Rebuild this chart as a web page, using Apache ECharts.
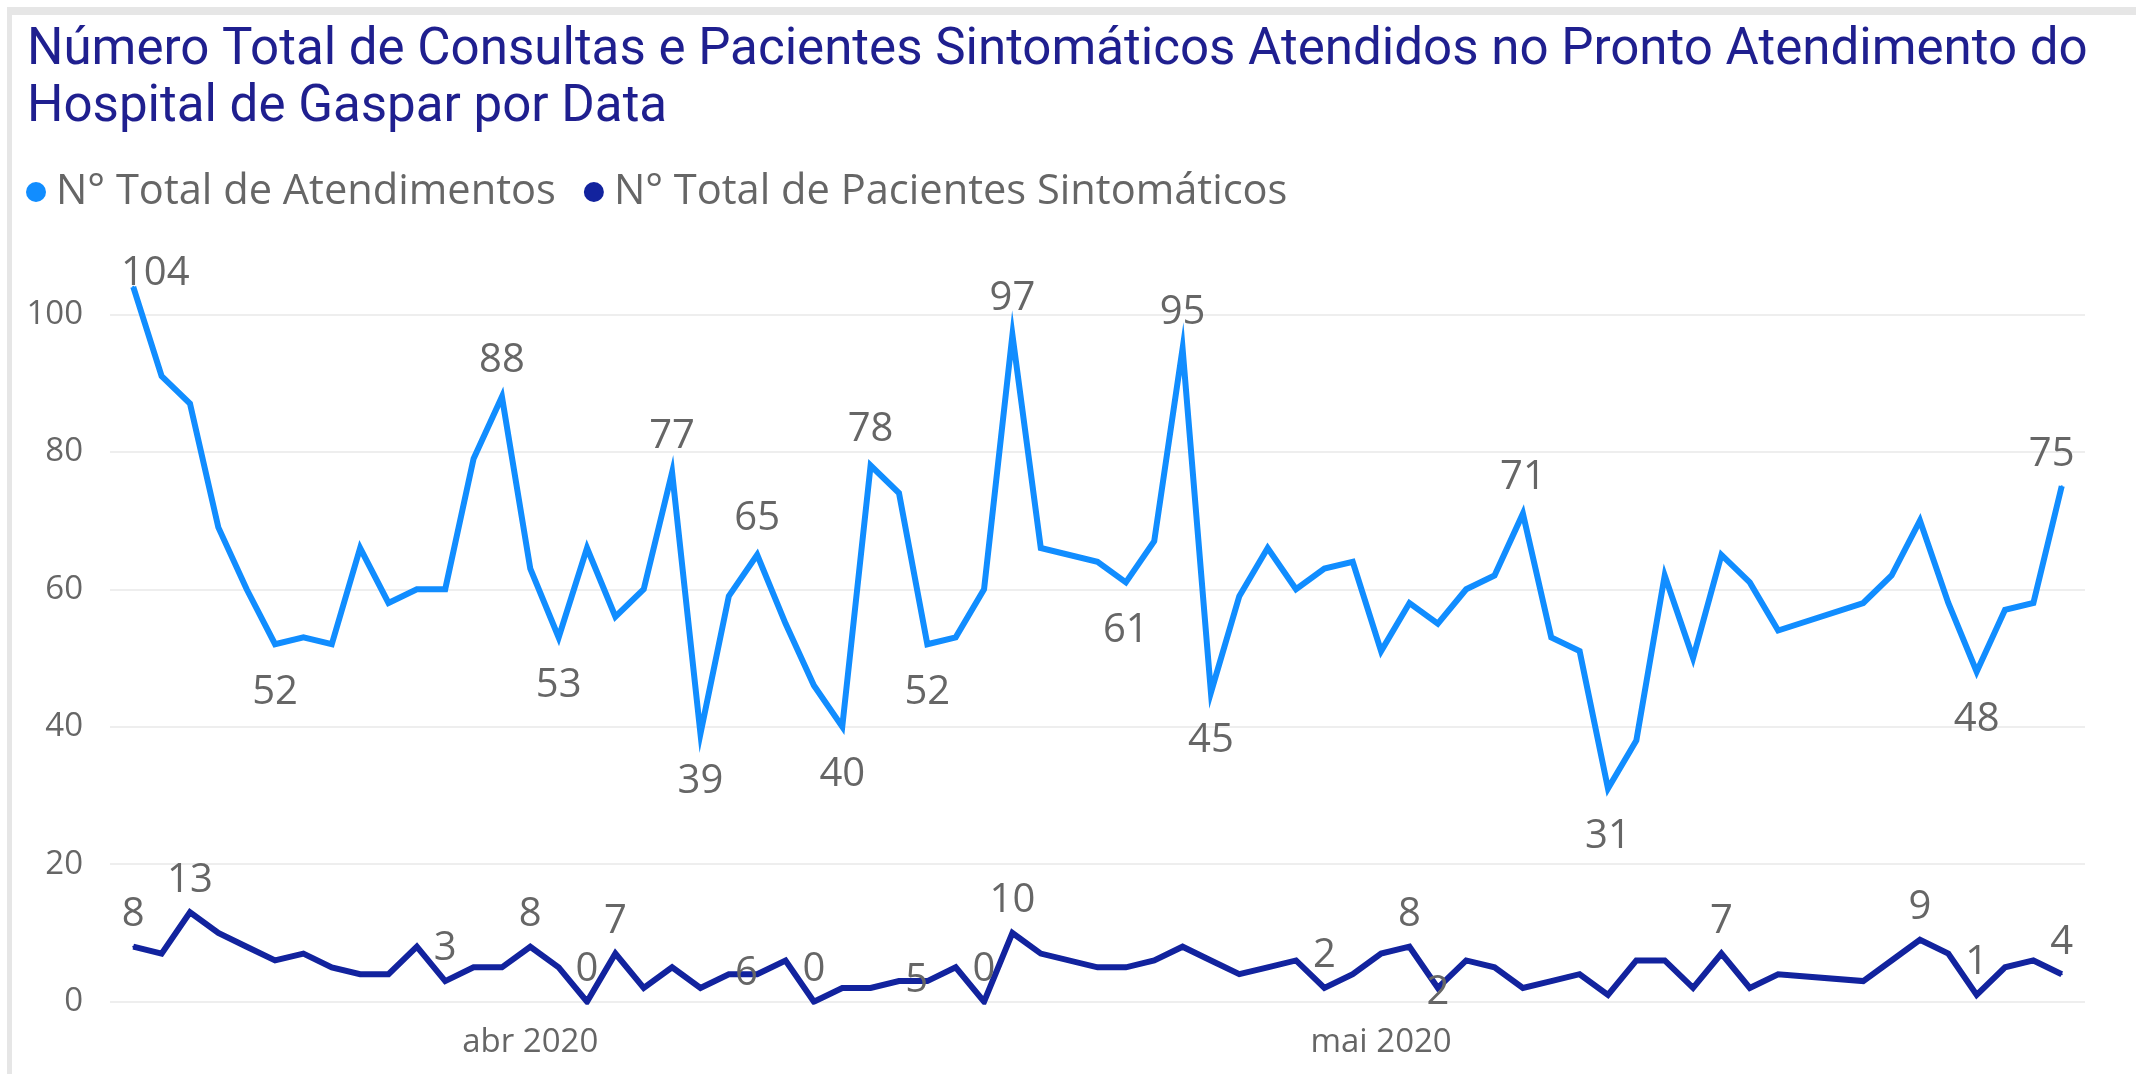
<!DOCTYPE html>
<html>
<head>
<meta charset="utf-8">
<title>Consultas e Pacientes Sintomáticos — Hospital de Gaspar</title>
<script src="https://cdn.jsdelivr.net/npm/echarts@6/dist/echarts.min.js"></script>
<style>
  html, body { margin: 0; padding: 0; background: #ffffff; }
  #chart { width: 2136px; height: 1074px; }
</style>
</head>
<body>
<div id="chart"></div>
<script>
// Daily records (days without a record are simply absent)
const dates = [
  '2020-03-18','2020-03-19','2020-03-20','2020-03-21','2020-03-22','2020-03-23','2020-03-24','2020-03-25',
  '2020-03-26','2020-03-27','2020-03-28','2020-03-29','2020-03-30','2020-03-31','2020-04-01','2020-04-02',
  '2020-04-03','2020-04-04','2020-04-05','2020-04-06','2020-04-07','2020-04-08','2020-04-09','2020-04-10',
  '2020-04-11','2020-04-12','2020-04-13','2020-04-14','2020-04-15','2020-04-16','2020-04-17','2020-04-18',
  '2020-04-19','2020-04-21','2020-04-22','2020-04-23','2020-04-24','2020-04-25','2020-04-26','2020-04-27',
  '2020-04-28','2020-04-29','2020-04-30','2020-05-01','2020-05-02','2020-05-03','2020-05-04','2020-05-05',
  '2020-05-06','2020-05-07','2020-05-08','2020-05-09','2020-05-10','2020-05-11','2020-05-12','2020-05-13',
  '2020-05-14','2020-05-15','2020-05-18','2020-05-19','2020-05-20','2020-05-21','2020-05-22','2020-05-23',
  '2020-05-24','2020-05-25'
];

const totalAtendimentos = [
  104, 91, 87, 69, 60, 52, 53, 52,
  66, 58, 60, 60, 79, 88, 63, 53,
  66, 56, 60, 77, 39, 59, 65, 55,
  46, 40, 78, 74, 52, 53, 60, 97,
  66, 64, 61, 67, 95, 45, 59, 66,
  60, 63, 64, 51, 58, 55, 60, 62,
  71, 53, 51, 31, 38, 62, 50, 65,
  61, 54, 58, 62, 70, 58, 48, 57,
  58, 75
];

const totalSintomaticos = [
  8, 7, 13, 10, 8, 6, 7, 5,
  4, 4, 8, 3, 5, 5, 8, 5,
  0, 7, 2, 5, 2, 4, 4, 6,
  0, 2, 2, 3, 3, 5, 0, 10,
  7, 5, 5, 6, 8, 6, 4, 5,
  6, 2, 4, 7, 8, 2, 6, 5,
  2, 3, 4, 1, 6, 6, 2, 7,
  2, 4, 3, 6, 9, 7, 1, 5,
  6, 4
];

// Month ticks on the date axis
const monthTickDates = ['2020-04-01', '2020-05-01'];
const monthTickLabels = ['abr 2020', 'mai 2020'];

const seriesNames = ['N° Total de Atendimentos', 'N° Total de Pacientes Sintomáticos'];
const titleLines = [
  'Número Total de Consultas e Pacientes Sintomáticos Atendidos no Pronto Atendimento do',
  'Hospital de Gaspar por Data'
];

// Which points carry a value label
const atendimentosLabelIdx = [0, 5, 13, 15, 19, 20, 22, 25, 26, 28, 31, 34, 36, 37, 48, 51, 62, 65];
const sintomaticosLabelIdx = [0, 2, 11, 14, 16, 17, 23, 24, 29, 30, 31, 41, 44, 45, 55, 60, 62, 65];

// ---- styling ----
const COLOR_A = '#118DFF';
const COLOR_S = '#12239E';
const TEXT_GRAY = '#666666';
const TITLE_COLOR = '#1F1F8F';

// label placement (offset of the label centre from the point)
const placeA = { up: [0, -36], down: [0, 48], first: [22, -13], last: [-10, -32] };
const placeS = { up: [0, -32], lowleft: [-39, 13], on: [0, 5] };
const placementA = {
  0: 'first', 5: 'down', 13: 'up', 15: 'down', 19: 'up', 20: 'down', 22: 'up', 25: 'down', 26: 'up',
  28: 'down', 31: 'up', 34: 'down', 36: 'up', 37: 'down', 48: 'up', 51: 'down', 62: 'down', 65: 'last'
};
const placementS = { 23: 'lowleft', 29: 'lowleft', 45: 'on' };

const toDay = s => Date.UTC(+s.slice(0, 4), +s.slice(5, 7) - 1, +s.slice(8, 10)) / 86400000;

// font size that makes a text span a given width
const measureCtx = document.createElement('canvas').getContext('2d');
function fitSize(text, family, weight, targetWidth) {
  measureCtx.font = weight + ' 100px ' + family;
  return 100 * targetWidth / measureCtx.measureText(text).width;
}

const TITLE_FONT = 'Roboto';
const LABEL_FONT = '"Open Sans"';
const titleSize = fitSize(titleLines[0], TITLE_FONT, 'normal', 2061);
const legendSize = fitSize(seriesNames[0], LABEL_FONT, 'normal', 500);

function buildData(values, labelIdx, placement, places) {
  return dates.map((d, i) => {
    const item = { value: [toDay(d), values[i]] };
    if (labelIdx.includes(i)) {
      const kind = placement[i] || 'up';
      item.label = { show: true, position: 'inside', offset: places[kind] };
    }
    return item;
  });
}

const dayMin = toDay(dates[0]) - 0.82;
const dayMax = toDay(dates[dates.length - 1]) + 0.82;
const monthDays = monthTickDates.map(toDay);

const chart = echarts.init(document.getElementById('chart'), null, { renderer: 'canvas' });

const labelStyle = {
  show: false,
  color: TEXT_GRAY,
  fontFamily: LABEL_FONT,
  fontSize: 40,
  formatter: p => String(p.value[1])
};

chart.setOption({
  animation: false,
  backgroundColor: '#ffffff',
  graphic: [
    { type: 'rect', shape: { x: 7, y: 7, width: 2129, height: 8 }, style: { fill: '#E6E6E6' }, silent: true },
    { type: 'rect', shape: { x: 7, y: 7, width: 5, height: 1067 }, style: { fill: '#E6E6E6' }, silent: true }
  ],
  title: {
    text: titleLines.join('\n'),
    left: 27,
    top: 23,
    padding: 0,
    textStyle: {
      fontFamily: TITLE_FONT,
      fontWeight: 'normal',
      fontSize: titleSize,
      lineHeight: 57,
      color: TITLE_COLOR
    }
  },
  legend: {
    left: 26,
    top: 171,
    padding: 0,
    itemWidth: 30,
    itemHeight: 20,
    itemGap: 28,
    icon: 'circle',
    data: seriesNames,
    textStyle: { fontFamily: LABEL_FONT, fontSize: legendSize, color: TEXT_GRAY }
  },
  grid: { left: 110, right: 51, top: 176.8, bottom: 72.3 },
  xAxis: {
    type: 'value',
    min: dayMin,
    max: dayMax,
    axisLine: { show: false },
    axisTick: { show: false },
    splitLine: { show: false },
    axisLabel: {
      customValues: monthDays,
      margin: 24,
      color: TEXT_GRAY,
      fontFamily: LABEL_FONT,
      fontSize: 33,
      formatter: v => {
        const k = monthDays.findIndex(m => Math.abs(m - v) < 0.01);
        return k >= 0 ? monthTickLabels[k] : '';
      }
    }
  },
  yAxis: {
    type: 'value',
    min: 0,
    max: 120,
    interval: 20,
    axisLine: { show: false },
    axisTick: { show: false },
    splitLine: { show: true, showMaxLine: false, lineStyle: { color: '#EEEEEE', width: 2 } },
    axisLabel: {
      showMaxLabel: false,
      margin: 27,
      color: TEXT_GRAY,
      fontFamily: LABEL_FONT,
      fontSize: 33
    }
  },
  series: [
    {
      name: seriesNames[0],
      type: 'line',
      data: buildData(totalAtendimentos, atendimentosLabelIdx, placementA, placeA),
      symbol: 'circle',
      symbolSize: 2,
      itemStyle: { color: COLOR_A },
      lineStyle: { color: COLOR_A, width: 6, join: 'miter' },
      label: labelStyle,
      z: 3
    },
    {
      name: seriesNames[1],
      type: 'line',
      data: buildData(totalSintomaticos, sintomaticosLabelIdx, placementS, placeS),
      symbol: 'circle',
      symbolSize: 2,
      itemStyle: { color: COLOR_S },
      lineStyle: { color: COLOR_S, width: 6, join: 'miter' },
      label: labelStyle,
      z: 2
    }
  ]
});
</script>
</body>
</html>
